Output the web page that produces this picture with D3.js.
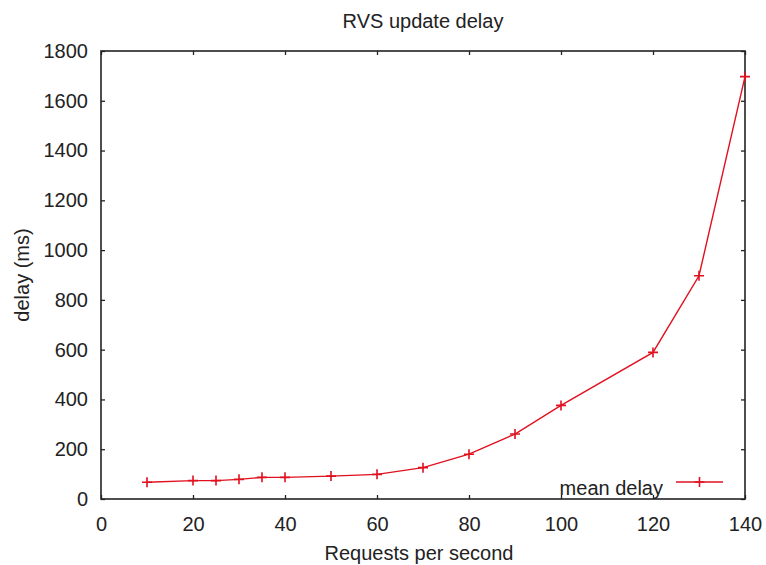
<!DOCTYPE html>
<html><head><meta charset="utf-8">
<script src="https://cdn.jsdelivr.net/npm/d3@7"></script>
<style>body{margin:0;background:#fff}svg{display:block}text{font-family:"Liberation Sans",Arial,sans-serif;fill:#222}</style>
</head><body>
<script>
const requests = [10,20,25,30,35,40,50,60,70,80,90,100,120,130,140];
const meanDelay = [67,74,74,79,87,87,92,99,126,180,261,376,589,897,1697];
const xTicks = [0,20,40,60,80,100,120,140];
const yTicks = [0,200,400,600,800,1000,1200,1400,1600,1800];
const title = "RVS update delay";
const xLabel = "Requests per second";
const yLabel = "delay (ms)";
const seriesName = "mean delay";

const W=766,H=565;
const m={l:101,r:21,t:51,b:66};
const svg=d3.select("body").append("svg").attr("width",W).attr("height",H);
const x=d3.scaleLinear().domain([0,140]).range([m.l,W-m.r]);
const y=d3.scaleLinear().domain([0,1800]).range([H-m.b,m.t]);
const fs=20, col="#e0101e", ax="#222";

// axes
const gB=svg.append("g").attr("transform",`translate(0,${y(0)})`)
  .call(d3.axisBottom(x).tickValues(xTicks).tickSize(-4).tickPadding(18).tickFormat(d3.format("d")));
const gL=svg.append("g").attr("transform",`translate(${x(0)},0)`)
  .call(d3.axisLeft(y).tickValues(yTicks).tickSize(-4).tickPadding(13).tickFormat(d3.format("d")));
const gT=svg.append("g").attr("transform",`translate(0,${y(1800)})`)
  .call(d3.axisTop(x).tickValues(xTicks).tickSize(-4).tickFormat(""));
const gR=svg.append("g").attr("transform",`translate(${x(140)},0)`)
  .call(d3.axisRight(y).tickValues(yTicks).tickSize(-4).tickFormat(""));
[gB,gL,gT,gR].forEach(g=>{
  g.select(".domain").remove();
  g.selectAll("line").attr("stroke",ax).attr("stroke-width",1.3);
  g.selectAll("text").attr("font-size",fs).attr("font-family","Liberation Sans, Arial, sans-serif").attr("fill","#222");
});
svg.append("rect").attr("x",x(0)).attr("y",y(1800)).attr("width",x(140)-x(0)).attr("height",y(0)-y(1800))
  .attr("fill","none").attr("stroke",ax).attr("stroke-width",1.6);

// line
const data=requests.map((r,i)=>({x:r,y:meanDelay[i]}));
svg.append("path").datum(data).attr("fill","none").attr("stroke",col).attr("stroke-width",1.4)
  .attr("d",d3.line().x(d=>x(d.x)).y(d=>y(d.y)));
const plus=(g,cx,cy)=>{
  g.append("path").attr("d",`M${cx-5},${cy}H${cx+5}M${cx},${cy-5}V${cy+5}`).attr("stroke",col).attr("stroke-width",1.6);
};
const mk=svg.append("g");
data.forEach(d=>plus(mk,x(d.x),y(d.y)));

// legend
const lg=svg.append("g");
lg.append("text").attr("x",663).attr("y",495).attr("text-anchor","end").attr("font-size",fs).text(seriesName);
lg.append("line").attr("x1",676).attr("x2",723).attr("y1",482).attr("y2",482).attr("stroke",col).attr("stroke-width",1.4);
plus(lg,699.5,482);

// labels
svg.append("text").attr("x",(x(0)+x(140))/2+0).attr("y",28).attr("text-anchor","middle").attr("font-size",fs).text(title);
svg.append("text").attr("x",(x(0)+x(140))/2-4).attr("y",560).attr("text-anchor","middle").attr("font-size",fs).text(xLabel);
svg.append("text").attr("transform",`translate(29,${(y(0)+y(1800))/2}) rotate(-90)`).attr("text-anchor","middle").attr("font-size",fs).text(yLabel);
</script>
</body></html>
